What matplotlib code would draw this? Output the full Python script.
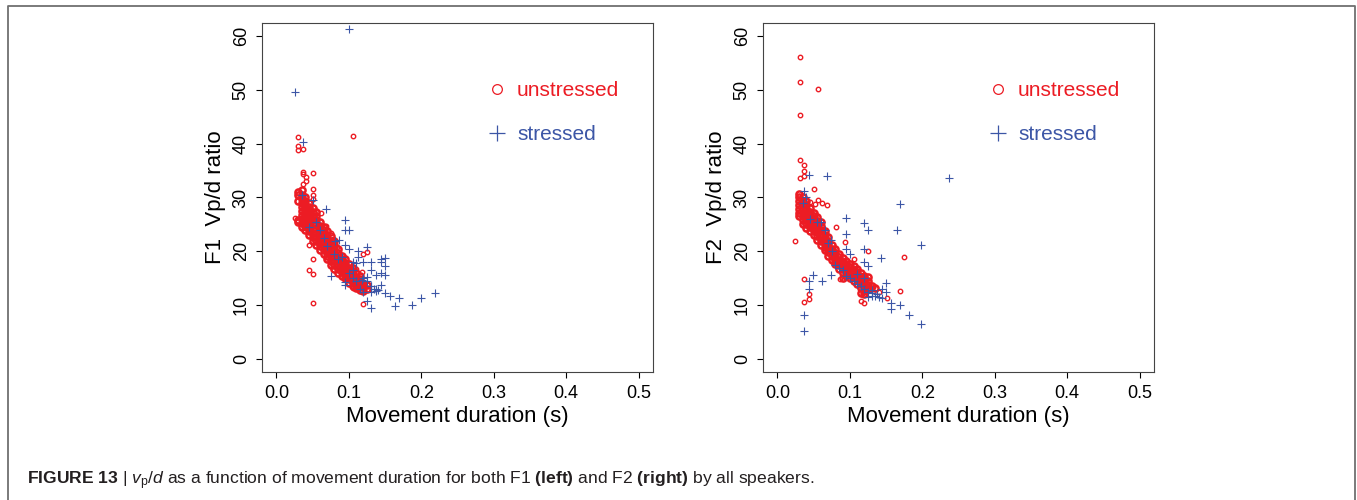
import matplotlib
matplotlib.use("Agg")
import matplotlib.pyplot as plt
from matplotlib.lines import Line2D

plt.rcParams['font.family'] = ['Liberation Sans', 'DejaVu Sans']
plt.rcParams['mathtext.fontset'] = 'custom'
plt.rcParams['mathtext.rm'] = 'Liberation Sans'
plt.rcParams['mathtext.it'] = 'Liberation Sans:italic'
plt.rcParams['mathtext.bf'] = 'Liberation Sans:bold'

RED = '#ec1c24'
BLUE = '#3c56a6'

# ---- F1, unstressed: dense band, one list of ratios per duration column
f1_un_dur = [0.030, 0.035, 0.040, 0.045, 0.050, 0.055, 0.060, 0.065, 0.070, 0.075,
             0.080, 0.085, 0.090, 0.095, 0.100, 0.105, 0.110, 0.115, 0.120, 0.125]
f1_un_band = [
    [25.5, 25.8, 29.3, 30.5, 31.0],
    [24.5, 25.3, 26.0, 26.8, 27.5, 28.3, 29.0, 29.8, 30.5, 31.3],
    [24.0, 24.8, 25.5, 26.3, 27.0, 27.8, 28.5, 29.3, 30.0],
    [23.0, 23.7, 24.4, 25.2, 26.0, 26.8, 27.5, 28.3, 29.0],
    [22.0, 22.7, 23.5, 24.2, 25.0, 25.8, 26.5, 27.3, 28.0],
    [21.2, 22.0, 22.7, 23.5, 24.2, 25.0, 25.8, 26.5, 27.3],
    [20.2, 21.0, 21.7, 22.5, 23.2, 24.0, 24.8, 25.5],
    [19.5, 20.2, 21.0, 21.7, 22.5, 23.2, 24.0, 24.6],
    [18.5, 19.2, 20.0, 20.7, 21.5, 22.2, 23.0, 23.8],
    [17.5, 18.2, 19.0, 19.7, 20.5, 21.2, 22.0, 22.8],
    [16.8, 17.5, 18.2, 19.0, 19.7, 20.5, 21.2, 22.0],
    [16.0, 16.8, 17.5, 18.2, 19.0, 19.7, 20.4],
    [15.5, 16.2, 17.0, 17.7, 18.5, 19.2],
    [15.0, 15.7, 16.4, 17.1, 17.8, 18.5],
    [14.2, 14.9, 15.6, 16.3, 17.0, 17.6],
    [13.5, 14.2, 14.9, 15.6, 16.3, 17.0],
    [13.2, 13.9, 14.6, 15.3, 16.0],
    [12.8, 13.5, 14.2, 14.9, 15.5],
    [12.7, 13.3, 14.0],
    [13.0, 13.8],
]
# F1, unstressed: scattered points
f1_un_x = [0.025, 0.030, 0.030, 0.030, 0.036, 0.036, 0.036, 0.036, 0.041, 0.041,
           0.050, 0.050, 0.050, 0.050, 0.045, 0.045, 0.050, 0.050, 0.050, 0.106,
           0.125, 0.119, 0.120, 0.126, 0.062, 0.068, 0.075, 0.078, 0.084, 0.092,
           0.100, 0.110, 0.118, 0.112, 0.105]
f1_un_y = [26.2, 41.2, 39.5, 38.8, 39.0, 34.8, 34.3, 32.5, 33.8, 33.0,
           34.5, 31.5, 30.5, 29.7, 21.2, 16.5, 18.6, 15.8, 10.5, 41.5,
           19.8, 19.5, 10.2, 13.8, 27.2, 24.8, 23.5, 22.3, 20.8, 18.3,
           17.8, 16.8, 16.1, 13.0, 13.2]
# F1, stressed
f1_st_x = [0.025, 0.100, 0.037, 0.069, 0.094, 0.094, 0.100, 0.087, 0.081, 0.094,
           0.100, 0.112, 0.112, 0.125, 0.131, 0.119, 0.144, 0.150, 0.144, 0.150,
           0.131, 0.137, 0.144, 0.150, 0.144, 0.075, 0.094, 0.094, 0.131, 0.137,
           0.131, 0.137, 0.150, 0.157, 0.169, 0.200, 0.219, 0.163, 0.1875, 0.125,
           0.131, 0.105, 0.110, 0.115, 0.120, 0.120, 0.125, 0.130, 0.135, 0.140,
           0.110, 0.105, 0.100, 0.090, 0.085, 0.080, 0.070, 0.065, 0.060, 0.055,
           0.050, 0.045, 0.035, 0.125, 0.118, 0.106]
f1_st_y = [49.5, 61.2, 40.3, 27.8, 25.9, 24.0, 24.0, 22.2, 22.0, 21.1,
           20.5, 20.1, 19.0, 20.8, 18.1, 18.1, 18.6, 18.7, 18.1, 17.2,
           16.6, 15.6, 16.0, 15.6, 13.8, 15.4, 14.4, 13.7, 13.5, 13.0,
           12.5, 12.7, 12.2, 11.8, 11.4, 11.4, 12.3, 9.8, 10.0, 10.7,
           9.4, 15.0, 14.5, 13.0, 12.5, 15.0, 14.5, 13.5, 13.0, 12.8,
           17.8, 18.0, 16.0, 19.0, 18.5, 19.5, 21.0, 22.5, 24.0, 25.5,
           29.5, 24.5, 30.5, 15.2, 14.6, 16.5]

# ---- F2, unstressed: dense band
f2_un_dur = [0.030, 0.035, 0.040, 0.045, 0.050, 0.055, 0.060, 0.065, 0.070, 0.075,
             0.080, 0.085, 0.090, 0.095, 0.100, 0.105, 0.110, 0.115, 0.120, 0.125,
             0.130, 0.135]
f2_un_band = [
    [26.5, 27.2, 27.9, 28.6, 29.3, 30.0, 30.7],
    [25.0, 25.8, 26.5, 27.2, 27.9, 28.6, 29.3, 30.0],
    [24.3, 25.0, 25.8, 26.5, 27.2, 27.9, 28.6, 29.3],
    [23.8, 24.5, 25.2, 26.0, 26.7, 27.4, 28.0],
    [23.0, 23.7, 24.4, 25.1, 25.8, 26.5, 27.2],
    [22.2, 22.9, 23.6, 24.3, 25.0, 25.7, 26.4],
    [21.2, 21.9, 22.6, 23.3, 24.0, 24.7, 25.4],
    [20.2, 20.9, 21.6, 22.3, 23.0, 23.7],
    [19.2, 19.9, 20.6, 21.3, 22.0, 22.7],
    [18.4, 19.1, 19.8, 20.5, 21.2],
    [17.6, 18.3, 19.0, 19.7, 20.4],
    [16.8, 17.5, 18.2, 18.9, 19.6],
    [15.0, 16.0, 16.7, 17.4, 18.1, 18.8],
    [15.5, 16.2, 16.9, 17.6, 18.2],
    [15.0, 15.7, 16.4, 17.1, 17.7],
    [14.5, 15.2, 15.9, 16.6, 17.2],
    [14.0, 14.7, 15.4, 16.1, 16.7],
    [12.2, 13.2, 13.9, 14.6, 15.3, 16.0],
    [12.0, 12.7, 13.4, 14.1, 14.8, 15.5],
    [13.0, 13.8, 14.5, 15.3],
    [13.5],
    [13.2],
]
f2_un_x = [0.0305, 0.0305, 0.056, 0.0305, 0.0305, 0.0305, 0.037, 0.037, 0.037, 0.050,
           0.0245, 0.037, 0.0435, 0.0435, 0.037, 0.056, 0.062, 0.068, 0.081, 0.093,
           0.125, 0.1745, 0.169, 0.151, 0.116, 0.120, 0.087, 0.106, 0.045, 0.052,
           0.130, 0.140]
f2_un_y = [56.0, 51.4, 50.2, 45.4, 37.0, 33.6, 36.1, 34.9, 34.0, 31.5,
           21.9, 14.9, 12.0, 11.1, 10.6, 29.6, 28.9, 28.6, 24.6, 21.7,
           20.0, 18.9, 12.6, 11.4, 10.8, 10.5, 14.9, 18.5, 29.2, 28.8,
           13.0, 12.5]
f2_st_x = [0.043, 0.068, 0.037, 0.094, 0.094, 0.119, 0.125, 0.165, 0.169, 0.198,
           0.2374, 0.119, 0.094, 0.100, 0.074, 0.143, 0.119, 0.125, 0.049, 0.043,
           0.062, 0.074, 0.043, 0.037, 0.037, 0.150, 0.150, 0.144, 0.157, 0.157,
           0.169, 0.181, 0.198, 0.137, 0.131, 0.144,
           0.080, 0.085, 0.090, 0.095, 0.100, 0.105, 0.110, 0.115, 0.120, 0.125,
           0.130, 0.135, 0.140, 0.125, 0.130, 0.060, 0.065, 0.070, 0.075, 0.045,
           0.040, 0.035, 0.055, 0.110, 0.120]
f2_st_y = [34.1, 34.0, 31.2, 26.2, 23.3, 25.2, 23.9, 23.9, 28.8, 21.2,
           33.6, 20.4, 20.4, 19.6, 22.1, 18.7, 18.1, 17.2, 15.6, 14.5,
           14.5, 15.6, 13.1, 8.1, 5.2, 14.1, 12.5, 13.1, 10.5, 9.3,
           10.1, 8.1, 6.5, 12.0, 11.8, 11.3,
           17.5, 17.0, 16.5, 15.5, 15.0, 14.5, 14.0, 13.5, 13.0, 12.5,
           12.2, 11.8, 11.5, 11.6, 12.8, 25.5, 24.0, 21.5, 20.0, 26.0,
           30.0, 29.0, 25.5, 15.8, 15.0]

xticks = [0.0, 0.1, 0.2, 0.3, 0.4, 0.5]
yticks = [0, 10, 20, 30, 40, 50, 60]


def flatten(durs, band):
    xs, ys = [], []
    for d, col in zip(durs, band):
        for v in col:
            xs.append(d)
            ys.append(v)
    return xs, ys


def panel(ax, bx, by, ux, uy, sx, sy, ylabel):
    # band drawn with heavy rings so the overlapping circles read as a solid mass
    ax.plot(bx, by, 'o', ls='', mfc='none', mec=RED, ms=4.4, mew=1.8)
    ax.plot(ux, uy, 'o', ls='', mfc='none', mec=RED, ms=3.2, mew=1.0)
    ax.plot(sx, sy, '+', ls='', color=BLUE, ms=5.5, mew=0.8)
    ax.set_xlim(-0.02, 0.52)
    ax.set_ylim(-2.4, 62.4)
    ax.set_xticks(xticks)
    ax.set_xticklabels(['%.1f' % t for t in xticks])
    ax.set_yticks(yticks)
    ax.set_yticklabels([str(t) for t in yticks])
    ax.tick_params(direction='out', length=4.3, width=0.8, labelsize=13, pad=5)
    ax.tick_params(axis='y', labelrotation=90, pad=4.5)
    for lbl in ax.get_yticklabels():
        lbl.set_va('center')
    for s in ax.spines.values():
        s.set_linewidth(0.8)
        s.set_color('#444444')
    ax.set_xlabel('Movement duration (s)', fontsize=16)
    ax.set_ylabel(ylabel, fontsize=16)
    ax.xaxis.set_label_coords(0.5, -0.098)
    ax.yaxis.set_label_coords(-0.093, 0.5)
    handles = [Line2D([], [], marker='o', ls='', mfc='none', mec=RED, ms=7, mew=0.9),
               Line2D([], [], marker='+', ls='', color=BLUE, ms=11, mew=0.9)]
    leg = ax.legend(handles, ['unstressed', 'stressed'], loc='upper left',
                    bbox_to_anchor=(0.575, 0.833), frameon=False, fontsize=15,
                    handlelength=1.0, handletextpad=0.45, labelspacing=1.2,
                    borderpad=0, borderaxespad=0)
    leg.get_texts()[0].set_color(RED)
    leg.get_texts()[1].set_color(BLUE)


fig = plt.figure(figsize=(13.57, 5.0), dpi=100)
ax1 = fig.add_axes([262 / 1357, 128 / 500, 391 / 1357, 349 / 500])
ax2 = fig.add_axes([763 / 1357, 128 / 500, 391 / 1357, 349 / 500])

b1x, b1y = flatten(f1_un_dur, f1_un_band)
b2x, b2y = flatten(f2_un_dur, f2_un_band)
panel(ax1, b1x, b1y, f1_un_x, f1_un_y, f1_st_x, f1_st_y, 'F1  Vp/d ratio')
panel(ax2, b2x, b2y, f2_un_x, f2_un_y, f2_st_x, f2_st_y, 'F2  Vp/d ratio')

# outer frame of the figure panel
x0, x1, yt = 8 / 1357, 1355 / 1357, 1 - 6 / 500
fig.add_artist(Line2D([x0, x0, x1, x1], [0, yt, yt, 0], transform=fig.transFigure,
                      color='#707070', lw=1.3))

caption = (r'$\mathbf{FIGURE\ 13}$ | $v_{\mathrm{p}}/d$ as a function of movement duration '
           r'for both F1 $\mathbf{(left)}$ and F2 $\mathbf{(right)}$ by all speakers.')
fig.text(27 / 1357, 1 - 481 / 500, caption, va='center', ha='left', fontsize=12.6,
         color='#231f20')

fig.savefig('out.png', dpi=100)
